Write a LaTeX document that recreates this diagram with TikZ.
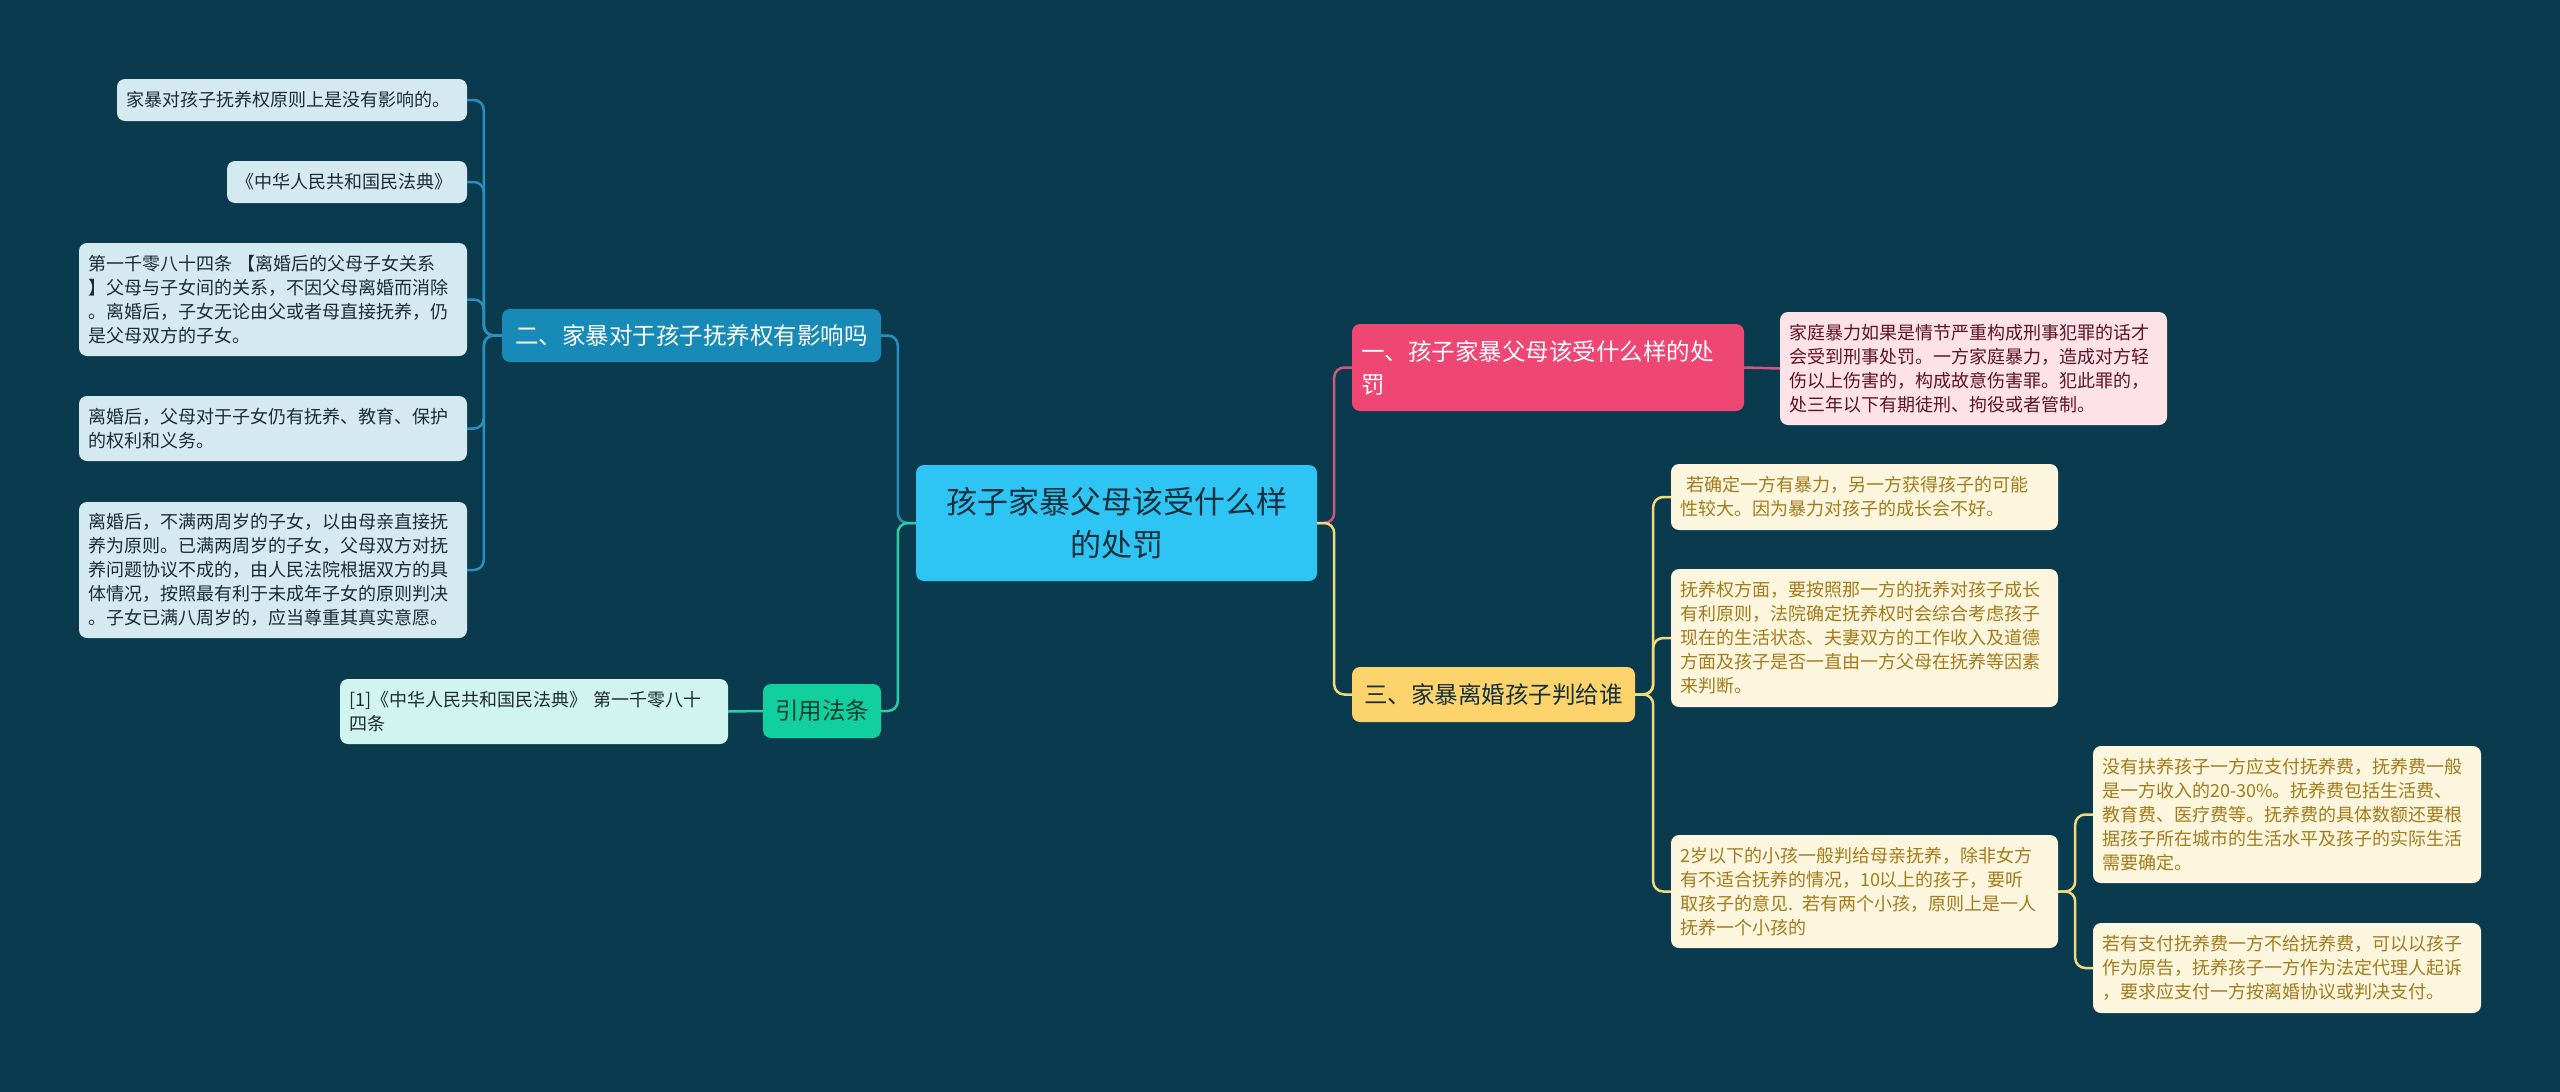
\documentclass[tikz,border=0pt]{standalone}
\usepackage{fontspec}
\setmainfont{Noto Sans CJK SC}
\usepackage{xcolor}
\usepackage{tikz}

\definecolor{bgcol}{HTML}{093A4E}
\definecolor{rootfill}{HTML}{2EC4F3}
\definecolor{roottext}{HTML}{15303D}
\definecolor{bluefill}{HTML}{178AB7}
\definecolor{blueline}{HTML}{2A8EBE}
\definecolor{leafblue}{HTML}{D5E9F1}
\definecolor{darktext}{HTML}{1D2B33}
\definecolor{greenfill}{HTML}{12D09E}
\definecolor{greenline}{HTML}{28CFA2}
\definecolor{greentext}{HTML}{0E3D34}
\definecolor{leafgreen}{HTML}{D1F5EE}
\definecolor{pinkfill}{HTML}{EE4773}
\definecolor{pinkline}{HTML}{D6557C}
\definecolor{leafpink}{HTML}{FDE2E8}
\definecolor{pinktext}{HTML}{5E1228}
\definecolor{yellowfill}{HTML}{FDD36C}
\definecolor{yellowline}{HTML}{F2D97C}
\definecolor{leafcream}{HTML}{FDF6DE}
\definecolor{creamtext}{HTML}{A47A1B}

\begin{document}
\begin{tikzpicture}[x=1pt, y=-1pt,
    box/.style={rounded corners=8pt, inner ysep=0pt, inner xsep=9pt, align=left},
    small/.style={font=\fontsize{18}{24}\selectfont},
    big/.style={font=\fontsize{23.5}{33}\selectfont},
    leafL/.style={box, small, fill=leafblue, text=darktext},
    leafG/.style={box, small, fill=leafgreen, text=darktext},
    leafP/.style={box, small, fill=leafpink, text=pinktext},
    leafY/.style={box, small, fill=leafcream, text=creamtext},
    link/.style={rounded corners=10pt, line width=2.5pt}]
    \useasboundingbox (0,0) rectangle (2560,1092);
    \fill[bgcol] (0,0) rectangle (2560,1092);

    % root
    \node[box, align=center, fill=rootfill, text=roottext, font=\fontsize{31}{43}\selectfont,
        minimum width=401pt, minimum height=116pt] (root) at (1116.5,523) {孩子家暴父母该受什么样\\的处罚};

    % left side
    \node[box, big, align=center, fill=bluefill, text=white, minimum width=379pt, minimum height=53pt] (b2) at (691.5,335.5) {二、家暴对于孩子抚养权有影响吗};
    \node[leafL, text width=332pt, minimum height=42pt] (l1) at (292,100) {家暴对孩子抚养权原则上是没有影响的。};
    \node[leafL, text width=222pt, minimum height=42pt] (l2) at (347,182) {《中华人民共和国民法典》};
    \node[leafL, text width=370pt, minimum height=113pt] (l3) at (273,299.5) {第一千零八十四条 【离婚后的父母子女关系\\】父母与子女间的关系，不因父母离婚而消除\\。离婚后，子女无论由父或者母直接抚养，仍\\是父母双方的子女。};
    \node[leafL, text width=370pt, minimum height=65pt] (l4) at (273,428.5) {离婚后，父母对于子女仍有抚养、教育、保护\\的权利和义务。};
    \node[leafL, text width=370pt, minimum height=136pt] (l5) at (273,570) {离婚后，不满两周岁的子女，以由母亲直接抚\\养为原则。已满两周岁的子女，父母双方对抚\\养问题协议不成的，由人民法院根据双方的具\\体情况，按照最有利于未成年子女的原则判决\\。子女已满八周岁的，应当尊重其真实意愿。};

    \node[box, big, align=center, fill=greenfill, text=greentext, minimum width=118pt, minimum height=54pt] (cite) at (822,711) {引用法条};
    \node[leafG, text width=370pt, minimum height=65pt] (law) at (534,711.5) {[1]《中华人民共和国民法典》 第一千零八十\\四条};

    % right side
    \node[box, big, fill=pinkfill, text=white, text width=374pt, minimum height=87pt] (b1) at (1548,367.5) {一、孩子家暴父母该受什么样的处\\罚};
    \node[leafP, text width=369pt, minimum height=113pt] (p1) at (1973.5,368.5) {家庭暴力如果是情节严重构成刑事犯罪的话才\\会受到刑事处罚。一方家庭暴力，造成对方轻\\伤以上伤害的，构成故意伤害罪。犯此罪的，\\处三年以下有期徒刑、拘役或者管制。};

    \node[box, big, align=center, fill=yellowfill, text=roottext, minimum width=283pt, minimum height=55pt] (b3) at (1493.5,694.5) {三、家暴离婚孩子判给谁};
    \node[leafY, text width=369pt, minimum height=66pt] (y1) at (1864.5,497) {\ 若确定一方有暴力，另一方获得孩子的可能\\性较大。因为暴力对孩子的成长会不好。};
    \node[leafY, text width=369pt, minimum height=138pt] (y2) at (1864.5,638) {抚养权方面，要按照那一方的抚养对孩子成长\\有利原则，法院确定抚养权时会综合考虑孩子\\现在的生活状态、夫妻双方的工作收入及道德\\方面及孩子是否一直由一方父母在抚养等因素\\来判断。};
    \node[leafY, text width=369pt, minimum height=113pt] (y3) at (1864.5,891.5) {2岁以下的小孩一般判给母亲抚养，除非女方\\有不适合抚养的情况，10以上的孩子，要听\\取孩子的意见. 若有两个小孩，原则上是一人\\抚养一个小孩的};
    \node[leafY, text width=370pt, minimum height=137pt] (s1) at (2287,814.5) {没有扶养孩子一方应支付抚养费，抚养费一般\\是一方收入的20-30\%。抚养费包括生活费、\\教育费、医疗费等。抚养费的具体数额还要根\\据孩子所在城市的生活水平及孩子的实际生活\\需要确定。};
    \node[leafY, text width=370pt, minimum height=90pt] (s2) at (2287,968) {若有支付抚养费一方不给抚养费，可以以孩子\\作为原告，抚养孩子一方作为法定代理人起诉\\，要求应支付一方按离婚协议或判决支付。};

    % links
    \draw[link, blueline] (root.west) -- ++(-18,0) |- (b2.east);
    \draw[link, greenline] (root.west) -- ++(-18,0) |- (cite.east);
    \draw[link, greenline] (cite.west) -- (law.east);
    \foreach \leaf in {l1,l2,l3,l4,l5}
        \draw[link, blueline] (b2.west) -- ++(-18,0) |- (\leaf.east);

    \draw[link, pinkline] (root.east) -- ++(17,0) |- (b1.west);
    \draw[link, yellowline] (root.east) -- ++(17,0) |- (b3.west);
    \draw[link, pinkline] (b1.east) -- (p1.west);
    \foreach \leaf in {y1,y2,y3}
        \draw[link, yellowline] (b3.east) -- ++(18,0) |- (\leaf.west);
    \foreach \leaf in {s1,s2}
        \draw[link, yellowline] (y3.east) -- ++(17,0) |- (\leaf.west);
\end{tikzpicture}
\end{document}
